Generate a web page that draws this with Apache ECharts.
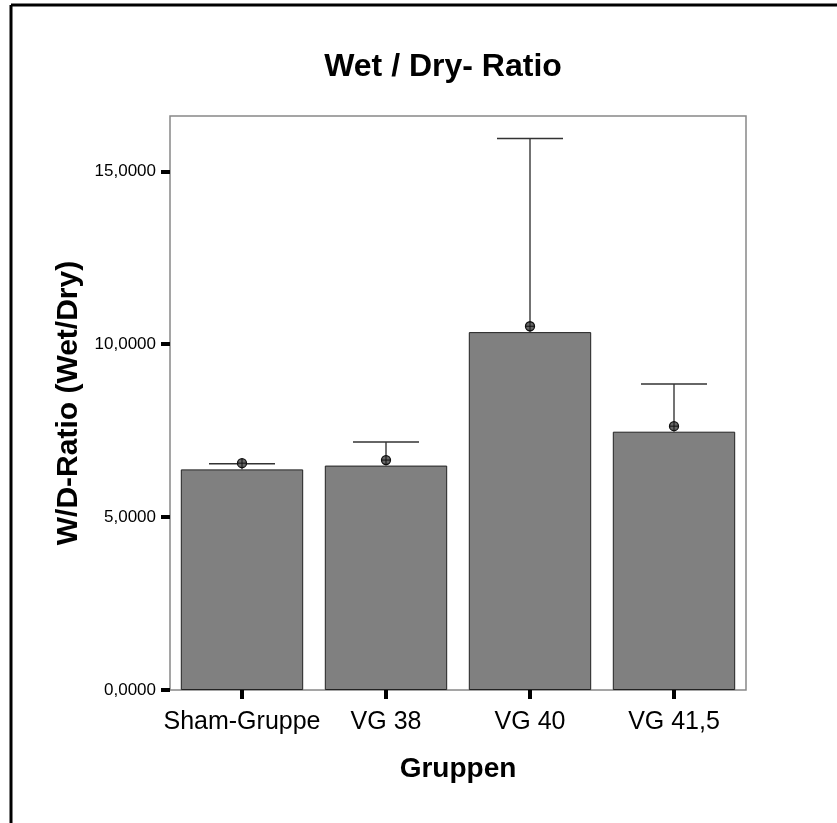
<!DOCTYPE html>
<html>
<head>
<meta charset="utf-8">
<script src="https://cdn.jsdelivr.net/npm/echarts@6/dist/echarts.min.js"></script>
<style>
    html, body { margin: 0; padding: 0; background: #fff; }
    #chart { width: 837px; height: 823px; }
</style>
</head>
<body>
<div id="chart"></div>
<script>
(function () {
    'use strict';

    var categories = ['Sham-Gruppe', 'VG 38', 'VG 40', 'VG 41,5'];
    var means = [6.38, 6.49, 10.35, 7.47];
    var upperErrors = [6.54, 7.17, 15.95, 8.85];
    var markerValues = [6.56, 6.65, 10.52, 7.63];
    var yTicks = [0, 5, 10, 15];

    var font = "'Liberation Sans', Arial, sans-serif";

    var errorData = [];
    for (var i = 0; i < categories.length; i++) {
        errorData.push([i, means[i], upperErrors[i], markerValues[i]]);
    }

    var chart = echarts.init(document.getElementById('chart'));

    chart.setOption({
        animation: false,
        title: {
            text: 'Wet / Dry- Ratio',
            left: 438,
            top: 46,
            textAlign: 'center',
            textStyle: { fontFamily: font, fontSize: 32, fontWeight: 'bold', color: '#000' }
        },
        graphic: [
            { type: 'line', shape: { x1: 11, y1: 5, x2: 837, y2: 5 }, style: { stroke: '#000', lineWidth: 3 } },
            { type: 'line', shape: { x1: 11, y1: 5, x2: 11, y2: 823 }, style: { stroke: '#000', lineWidth: 3 } }
        ],
        grid: {
            left: 170,
            right: 91,
            top: 116,
            bottom: 133,
            show: true,
            borderColor: '#888',
            borderWidth: 1.5,
            backgroundColor: '#fff'
        },
        xAxis: {
            type: 'category',
            data: categories,
            name: 'Gruppen',
            nameLocation: 'middle',
            nameGap: 65,
            nameTextStyle: { fontFamily: font, fontSize: 28, fontWeight: 'bold', color: '#000' },
            axisLine: { show: false },
            axisTick: { show: true, alignWithLabel: true, interval: 0, length: 9, lineStyle: { color: '#000', width: 4 } },
            axisLabel: { interval: 0, margin: 20, fontFamily: font, fontSize: 25, color: '#000' }
        },
        yAxis: {
            type: 'value',
            min: 0,
            max: 16.6,
            interval: 5,
            name: 'W/D-Ratio (Wet/Dry)',
            nameLocation: 'middle',
            nameGap: 86,
            nameTextStyle: { fontFamily: font, fontSize: 30, fontWeight: 'bold', color: '#000' },
            axisLine: { show: false },
            splitLine: { show: false },
            axisTick: { show: true, customValues: yTicks, length: 9, lineStyle: { color: '#000', width: 4 } },
            axisLabel: {
                customValues: yTicks,
                margin: 14,
                fontFamily: font,
                fontSize: 17,
                color: '#000',
                formatter: function (v) { return v.toFixed(4).replace('.', ','); }
            }
        },
        series: [{
            type: 'bar',
            data: means,
            barWidth: '85%',
            itemStyle: { color: '#808080', borderColor: '#222', borderWidth: 1 },
            z: 2
        }, {
            type: 'custom',
            data: errorData,
            z: 3,
            renderItem: function (params, api) {
                var x = api.value(0);
                var base = api.coord([x, api.value(1)]);
                var top = api.coord([x, api.value(2)]);
                var mark = api.coord([x, api.value(3)]);
                var half = 33;
                var r = 4.5;
                return {
                    type: 'group',
                    children: [
                        { type: 'line', shape: { x1: base[0], y1: base[1], x2: top[0], y2: top[1] }, style: { stroke: '#444', lineWidth: 1.5 } },
                        { type: 'line', shape: { x1: top[0] - half, y1: top[1], x2: top[0] + half, y2: top[1] }, style: { stroke: '#333', lineWidth: 1.5 } },
                        { type: 'circle', shape: { cx: mark[0], cy: mark[1], r: r }, style: { fill: '#666', stroke: '#111', lineWidth: 1.3 } },
                        { type: 'line', shape: { x1: mark[0] - r, y1: mark[1], x2: mark[0] + r, y2: mark[1] }, style: { stroke: '#111', lineWidth: 1 } },
                        { type: 'line', shape: { x1: mark[0], y1: mark[1] - r, x2: mark[0], y2: mark[1] + r }, style: { stroke: '#111', lineWidth: 1 } }
                    ]
                };
            }
        }]
    });
}());
</script>
</body>
</html>
